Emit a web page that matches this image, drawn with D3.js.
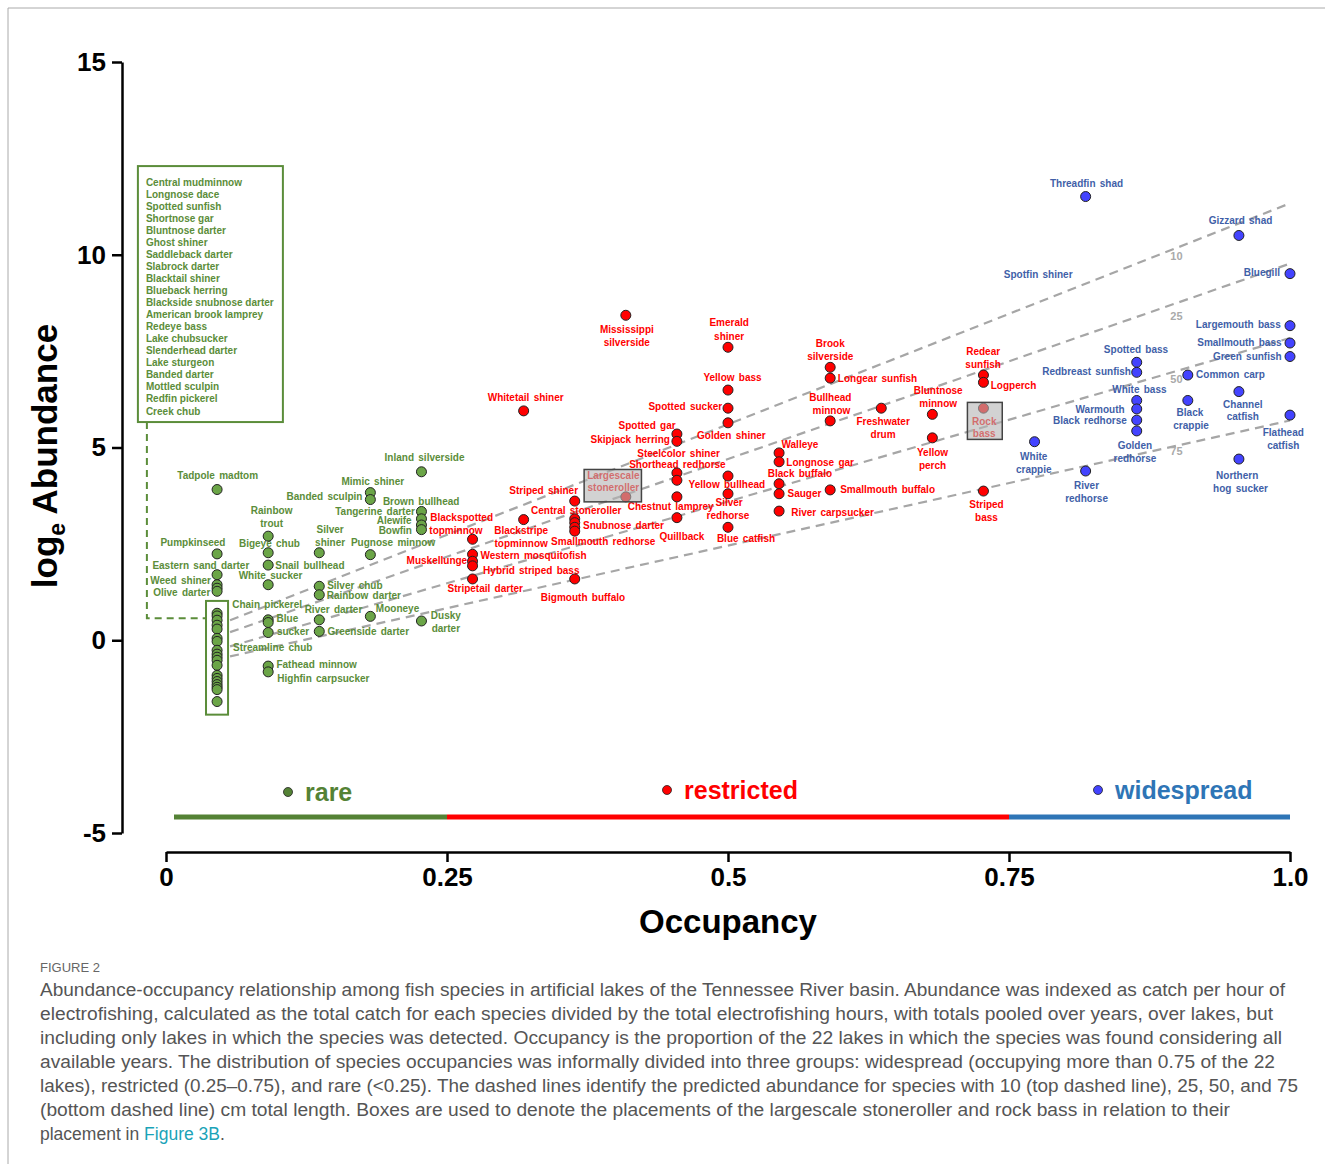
<!DOCTYPE html>
<html>
<head>
<meta charset="utf-8">
<script src="https://cdn.jsdelivr.net/npm/d3@7"></script>
<style>
  body { margin: 0; background: #fff; }
  svg text { font-family: "Liberation Sans", Arial, sans-serif; }
</style>
</head>
<body>
<div id="chart"></div>
<script>
// occupancy = lakes occupied / 22
const LAKES = 22;
const xTicks = [0, 0.25, 0.5, 0.75, 1.0];
const xTickLabels = ["0", "0.25", "0.5", "0.75", "1.0"];
const yTicks = [-5, 0, 5, 10, 15];

// [lakes occupied, loge abundance]
const rare = [
  [1, 3.91], [1, 2.24], [1, 1.70], [1, 1.44], [1, 1.35], [1, 1.27],
  [1, 0.70], [1, 0.63], [1, 0.52], [1, 0.39], [1, 0.29], [1, 0.05], [1, -0.03], [1, -0.26],
  [1, -0.36], [1, -0.44], [1, -0.52], [1, -0.65], [1, -0.91], [1, -0.99], [1, -1.07],
  [1, -1.15], [1, -1.22], [1, -1.28], [1, -1.59],
  [2, 2.70], [2, 2.27], [2, 1.95], [2, 1.44], [2, 0.53], [2, 0.46], [2, 0.20], [2, -0.67], [2, -0.82],
  [3, 2.27], [3, 1.40], [3, 1.18], [3, 0.53], [3, 0.23],
  [4, 3.83], [4, 3.65], [4, 2.22], [4, 0.62],
  [5, 4.37], [5, 3.34], [5, 3.15], [5, 2.99], [5, 2.87], [5, 0.50]
];
const restricted = [
  [6, 2.62], [6, 2.23], [6, 2.05], [6, 1.93], [6, 1.59],
  [7, 5.95], [7, 3.13],
  [8, 3.61], [8, 3.15], [8, 3.05], [8, 2.93], [8, 2.83], [8, 1.59],
  [9, 8.43], [9, 3.72],
  [10, 5.35], [10, 5.16], [10, 4.34], [10, 4.15], [10, 3.72], [10, 3.18],
  [11, 7.60], [11, 6.49], [11, 6.02], [11, 5.64], [11, 4.26], [11, 3.80], [11, 2.93],
  [12, 4.86], [12, 4.63], [12, 4.06], [12, 3.80], [12, 3.35],
  [13, 7.08], [13, 6.80], [13, 5.69], [13, 3.90],
  [14, 6.02],
  [15, 5.86], [15, 5.25],
  [16, 6.88], [16, 6.69], [16, 6.02], [16, 3.87]
];
const widespread = [
  [17, 5.15], [18, 11.51], [18, 4.39],
  [19, 7.21], [19, 6.95], [19, 6.22], [19, 6.00], [19, 5.71], [19, 5.43],
  [20, 6.88], [20, 6.22],
  [21, 10.50], [21, 6.45], [21, 4.70],
  [22, 9.51], [22, 8.16], [22, 7.71], [22, 7.36], [22, 5.84]
];

// predicted abundance for total length (cm): [occupancy, loge] end points
const sizeLines = [
  { cm: "10", a: [0.057, 0.52], b: [0.997, 11.30], label: [0.899, 9.97] },
  { cm: "25", a: [0.057, 0.21], b: [1.0, 9.77], label: [0.899, 8.41] },
  { cm: "50", a: [0.057, -0.16], b: [1.0, 7.84], label: [0.899, 6.77] },
  { cm: "75", a: [0.057, -0.42], b: [1.0, 5.70], label: [0.899, 4.90] }
];

const boxedRare = ["Central mudminnow", "Longnose dace", "Spotted sunfish", "Shortnose gar",
  "Bluntnose darter", "Ghost shiner", "Saddleback darter", "Slabrock darter", "Blacktail shiner",
  "Blueback herring", "Blackside snubnose darter", "American brook lamprey", "Redeye bass",
  "Lake chubsucker", "Slenderhead darter", "Lake sturgeon", "Banded darter", "Mottled sculpin",
  "Redfin pickerel", "Creek chub"];

// species labels: [text, occupancy, loge]
const rareLabels = [
  ["Tadpole madtom", 0.046, 4.27], ["Mimic shiner", 0.184, 4.11], ["Inland silverside", 0.230, 4.74],
  ["Banded sculpin", 0.141, 3.72], ["Brown bullhead", 0.227, 3.59], ["Rainbow", 0.094, 3.36],
  ["trout", 0.094, 3.02], ["Tangerine darter", 0.186, 3.34], ["Alewife", 0.203, 3.10],
  ["Bowfin", 0.204, 2.84], ["Silver", 0.146, 2.86], ["shiner", 0.146, 2.53],
  ["Pumpkinseed", 0.024, 2.53], ["Bigeye chub", 0.092, 2.50], ["Pugnose minnow", 0.202, 2.53],
  ["Eastern sand darter", 0.031, 1.95], ["Snail bullhead", 0.128, 1.93], ["White sucker", 0.093, 1.69],
  ["Weed shiner", 0.013, 1.56], ["Olive darter", 0.014, 1.25], ["Silver chub", 0.168, 1.43],
  ["Rainbow darter", 0.176, 1.17], ["Chain pickerel", 0.090, 0.94], ["River darter", 0.149, 0.81],
  ["Mooneye", 0.206, 0.83], ["Dusky", 0.249, 0.63], ["darter", 0.249, 0.31], ["Blue", 0.108, 0.57],
  ["sucker", 0.113, 0.23], ["Greenside darter", 0.180, 0.23], ["Streamline chub", 0.095, -0.18],
  ["Fathead minnow", 0.134, -0.63], ["Highfin carpsucker", 0.140, -0.99]
];
const restrictedLabels = [
  ["Mississippi", 0.410, 8.07], ["silverside", 0.410, 7.73], ["Emerald", 0.501, 8.23], ["shiner", 0.501, 7.89],
  ["Brook", 0.591, 7.71], ["silverside", 0.591, 7.37], ["Redear", 0.727, 7.50], ["sunfish", 0.727, 7.16],
  ["Yellow bass", 0.504, 6.82], ["Longear sunfish", 0.633, 6.80], ["Logperch", 0.754, 6.61],
  ["Whitetail shiner", 0.320, 6.30], ["Bluntnose", 0.687, 6.48], ["minnow", 0.687, 6.15],
  ["Bullhead", 0.591, 6.30], ["minnow", 0.592, 5.96], ["Spotted sucker", 0.462, 6.07],
  ["Freshwater", 0.638, 5.68], ["drum", 0.638, 5.34], ["Spotted gar", 0.428, 5.57],
  ["Golden shiner", 0.503, 5.31], ["Skipjack herring", 0.413, 5.21], ["Walleye", 0.564, 5.08],
  ["Yellow", 0.682, 4.87], ["perch", 0.682, 4.53], ["Steelcolor shiner", 0.456, 4.84],
  ["Longnose gar", 0.582, 4.61], ["Shorthead redhorse", 0.455, 4.56], ["Black buffalo", 0.564, 4.32],
  ["Yellow bullhead", 0.499, 4.04], ["Striped shiner", 0.336, 3.88], ["Sauger", 0.568, 3.80],
  ["Smallmouth buffalo", 0.642, 3.91], ["Central stoneroller", 0.365, 3.36], ["Chestnut lamprey", 0.449, 3.46],
  ["Silver", 0.501, 3.57], ["redhorse", 0.500, 3.23], ["River carpsucker", 0.593, 3.31],
  ["Blackspotted", 0.263, 3.18], ["topminnow", 0.258, 2.84], ["Blackstripe", 0.316, 2.84],
  ["topminnow", 0.316, 2.50], ["Snubnose darter", 0.407, 2.97], ["Quillback", 0.459, 2.68],
  ["Blue catfish", 0.516, 2.63], ["Smallmouth redhorse", 0.389, 2.55], ["Striped", 0.730, 3.52],
  ["bass", 0.730, 3.18], ["Muskellunge", 0.241, 2.08], ["Western mosquitofish", 0.327, 2.19],
  ["Hybrid striped bass", 0.325, 1.80], ["Stripetail darter", 0.284, 1.33], ["Bigmouth buffalo", 0.371, 1.12],
  ["Largescale", 0.398, 4.27], ["stoneroller", 0.398, 3.96], ["Rock", 0.728, 5.68], ["bass", 0.728, 5.36]
];
const widespreadLabels = [
  ["Threadfin shad", 0.819, 11.85], ["Gizzard shad", 0.956, 10.89], ["Bluegill", 0.975, 9.53],
  ["Spotfin shiner", 0.776, 9.48], ["Largemouth bass", 0.954, 8.20], ["Smallmouth bass", 0.955, 7.73],
  ["Spotted bass", 0.863, 7.55], ["Green sunfish", 0.962, 7.37], ["Redbreast sunfish", 0.819, 6.98],
  ["Common carp", 0.947, 6.90], ["White bass", 0.866, 6.51], ["Channel", 0.958, 6.12],
  ["catfish", 0.958, 5.81], ["Warmouth", 0.831, 5.99], ["Black", 0.911, 5.91], ["crappie", 0.912, 5.57],
  ["Black redhorse", 0.822, 5.70], ["Flathead", 0.994, 5.39], ["catfish", 0.994, 5.05],
  ["Golden", 0.862, 5.05], ["redhorse", 0.862, 4.71], ["White", 0.772, 4.77], ["crappie", 0.772, 4.43],
  ["Northern", 0.953, 4.27], ["hog sucker", 0.956, 3.93], ["River", 0.819, 4.01], ["redhorse", 0.819, 3.67]
];

// boxes marking largescale stoneroller and rock bass: [occ0, occ1, loge0, loge1]
const highlightBoxes = [[0.372, 0.423, 4.43, 3.59], [0.713, 0.744, 6.17, 5.21]];

const groups = [
  { name: "rare", pts: rare, labels: rareLabels, fill: "#6ba547", text: "#5b8d3a", key: "#548235", range: [0, 0.25] },
  { name: "restricted", pts: restricted, labels: restrictedLabels, fill: "#ff0000", text: "#ff0000", key: "#ff0000", range: [0.25, 0.75] },
  { name: "widespread", pts: widespread, labels: widespreadLabels, fill: "#4343ff", text: "#3f5fa8", key: "#2e75b6", range: [0.75, 1.0] }
];

const captionLines = [
  "Abundance-occupancy relationship among fish species in artificial lakes of the Tennessee River basin. Abundance was indexed as catch per hour of",
  "electrofishing, calculated as the total catch for each species divided by the total electrofishing hours, with totals pooled over years, over lakes, but",
  "including only lakes in which the species was detected. Occupancy is the proportion of the 22 lakes in which the species was found considering all",
  "available years. The distribution of species occupancies was informally divided into three groups: widespread (occupying more than 0.75 of the 22",
  "lakes), restricted (0.25\u20130.75), and rare (<0.25). The dashed lines identify the predicted abundance for species with 10 (top dashed line), 25, 50, and 75",
  "(bottom dashed line) cm total length. Boxes are used to denote the placements of the largescale stoneroller and rock bass in relation to their"
];
const captionWidths = [1245, 1233, 1242, 1235, 1258, 1190];

const W = 1329, H = 1164;
const svg = d3.select("#chart").append("svg").attr("width", W).attr("height", H);

// frame
svg.append("path").attr("d", `M8,${H} V8 H1325`).attr("fill", "none").attr("stroke", "#aaa").attr("stroke-width", 1);

const x = d3.scaleLinear().domain([0, 1]).range([166, 1290]);
const y = d3.scaleLinear().domain([-5, 15]).range([833, 62]);

// y axis
const yAxis = svg.append("g").attr("transform", "translate(122,0)")
  .call(d3.axisLeft(y).tickValues(yTicks).tickFormat(d => String(d)).tickSize(10).tickSizeOuter(0).tickPadding(6));
yAxis.selectAll("path,line").attr("stroke", "#000").attr("stroke-width", 2.5);
yAxis.selectAll("text").attr("font-size", 26).attr("font-weight", "bold").attr("fill", "#000");

// x axis
const xAxis = svg.append("g").attr("transform", "translate(0,852)")
  .call(d3.axisBottom(x).tickValues(xTicks).tickFormat((d, i) => xTickLabels[i]).tickSize(10).tickSizeOuter(0).tickPadding(6));
xAxis.selectAll("path,line").attr("stroke", "#000").attr("stroke-width", 2.5);
xAxis.selectAll("text").attr("font-size", 26).attr("font-weight", "bold").attr("fill", "#000");

svg.append("text").attr("x", 728).attr("y", 933).attr("text-anchor", "middle")
  .attr("font-size", 33).attr("font-weight", "bold").text("Occupancy");

const yl = svg.append("text").attr("transform", "translate(57,456) rotate(-90)")
  .attr("text-anchor", "middle").attr("font-size", 35).attr("font-weight", "bold");
yl.append("tspan").text("log");
yl.append("tspan").attr("font-size", 23).attr("dy", 8).text("e");
yl.append("tspan").attr("dy", -8).text(" Abundance");

// occupancy class bar
groups.forEach(g => {
  svg.append("line").attr("x1", x(g.range[0]) + (g.name === "rare" ? 8 : 0)).attr("x2", x(g.range[1]))
    .attr("y1", 817).attr("y2", 817).attr("stroke", g.key).attr("stroke-width", 5);
});

// class legend
const legendPos = [[288, 792], [667, 790], [1098, 790]];
groups.forEach((g, i) => {
  const [lx, ly] = legendPos[i];
  svg.append("circle").attr("cx", lx).attr("cy", ly).attr("r", 4.5)
    .attr("fill", g.name === "widespread" ? "#4343ff" : g.key).attr("stroke", "#222").attr("stroke-width", 0.8);
  svg.append("text").attr("x", lx + 17).attr("y", ly + 9).attr("font-size", 25).attr("font-weight", "bold")
    .attr("fill", g.key).text(g.name);
});

// dashed size lines
sizeLines.forEach(s => {
  svg.append("line").attr("x1", x(s.a[0])).attr("y1", y(s.a[1])).attr("x2", x(s.b[0])).attr("y2", y(s.b[1]))
    .attr("stroke", "#a6a6a6").attr("stroke-width", 2.2).attr("stroke-dasharray", "9,6");
  svg.append("text").attr("x", x(s.label[0])).attr("y", y(s.label[1]) + 4).attr("text-anchor", "middle")
    .attr("font-size", 11).attr("font-weight", "bold").attr("fill", "#aaa").text(s.cm);
});

// rare species list box
const rb = { x0: -0.025, x1: 0.104, top: 12.30, bottom: 5.66 };
const green = "#5b8d3a";
svg.append("rect").attr("x", x(rb.x0)).attr("y", y(rb.top))
  .attr("width", x(rb.x1) - x(rb.x0)).attr("height", y(rb.bottom) - y(rb.top))
  .attr("fill", "none").attr("stroke", green).attr("stroke-width", 2);
boxedRare.forEach((t, i) => {
  svg.append("text").attr("x", x(rb.x0) + 8).attr("y", y(rb.top) + 19.5 + i * 12.05)
    .attr("font-size", 10).attr("font-weight", "bold").attr("fill", green).text(t);
});
const smallBox = [0.0356, 0.0552, 1.02, -1.93];
svg.append("path")
  .attr("d", `M${x(-0.017)},${y(rb.bottom)} V${y(0.57)} H${x(smallBox[0])}`)
  .attr("fill", "none").attr("stroke", green).attr("stroke-width", 2).attr("stroke-dasharray", "7,5");
svg.append("rect").attr("x", x(smallBox[0])).attr("y", y(smallBox[2]))
  .attr("width", x(smallBox[1]) - x(smallBox[0])).attr("height", y(smallBox[3]) - y(smallBox[2]))
  .attr("fill", "none").attr("stroke", green).attr("stroke-width", 2);

// species labels
groups.forEach(g => {
  svg.append("g").selectAll("text").data(g.labels).join("text")
    .attr("x", d => x(d[1])).attr("y", d => y(d[2]) + 3.5)
    .attr("text-anchor", "middle").attr("font-size", 10).attr("font-weight", "bold")
    .attr("word-spacing", 1.5).attr("fill", g.text).text(d => d[0]);
});

// points
groups.forEach(g => {
  svg.append("g").selectAll("circle").data(g.pts).join("circle")
    .attr("cx", d => x(d[0] / LAKES)).attr("cy", d => y(d[1])).attr("r", 5)
    .attr("fill", g.fill).attr("stroke", "#222").attr("stroke-width", 1);
});

// highlight boxes (drawn over, semi-transparent)
highlightBoxes.forEach(b => {
  svg.append("rect").attr("x", x(b[0])).attr("y", y(b[2]))
    .attr("width", x(b[1]) - x(b[0])).attr("height", y(b[3]) - y(b[2]))
    .attr("fill", "#b4b4b4").attr("fill-opacity", 0.6).attr("stroke", "#444").attr("stroke-width", 1.5);
});

// caption
svg.append("text").attr("x", 40).attr("y", 972).attr("font-size", 13).attr("fill", "#666")
  .attr("font-family", "Lato, 'Liberation Sans', sans-serif").text("FIGURE 2");
captionLines.forEach((t, i) => {
  svg.append("text").attr("x", 40).attr("y", 996 + i * 24).attr("font-size", 17.5).attr("fill", "#555")
    .attr("font-family", "Lato, 'Liberation Sans', sans-serif").attr("font-weight", 300)
    .attr("textLength", captionWidths[i]).attr("lengthAdjust", "spacingAndGlyphs").text(t);
});
const last = svg.append("text").attr("x", 40).attr("y", 996 + 6 * 24).attr("font-size", 17.5).attr("fill", "#555")
  .attr("font-family", "Lato, 'Liberation Sans', sans-serif").attr("font-weight", 300);
last.append("tspan").text("placement in ");
last.append("tspan").attr("fill", "#1aa3b8").text("Figure 3B");
last.append("tspan").text(".");
</script>
</body>
</html>
